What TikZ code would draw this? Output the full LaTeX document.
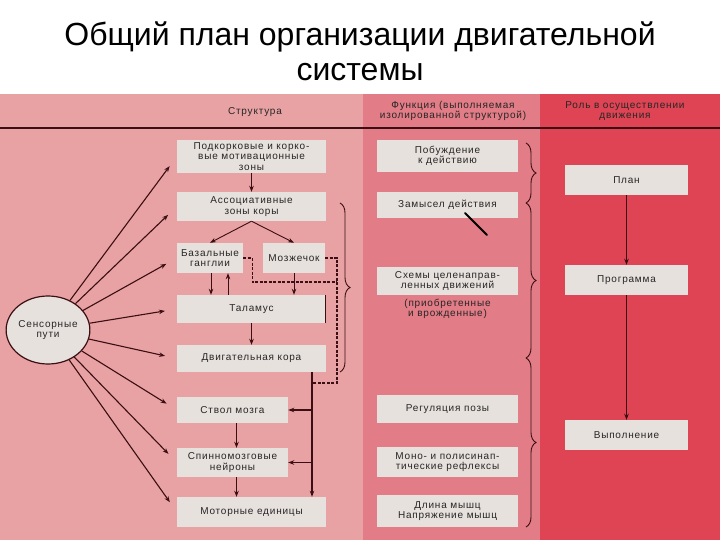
\documentclass[tikz,border=0pt]{standalone}
\usepackage{fontspec}
\setmainfont{Liberation Sans}
\usetikzlibrary{arrows.meta,calc,decorations.pathreplacing,shapes.geometric}
\definecolor{bgleft}{HTML}{E8A2A4}
\definecolor{bgmid}{HTML}{E27C86}
\definecolor{bgright}{HTML}{DE4453}
\definecolor{boxfill}{HTML}{E7E1DD}
\definecolor{ink}{HTML}{3A0E12}
\definecolor{txt}{HTML}{262626}
\newcommand{\boxfont}{\fontsize{10}{10.6}\selectfont\addfontfeatures{LetterSpace=8}}
\tikzset{
  blk/.style={fill=boxfill, inner sep=1pt, align=center, font=\boxfont, text=txt},
  hdr/.style={align=center, font=\boxfont, text=txt},
  ttl/.style={align=center, font=\fontsize{32}{36}\selectfont, text=black},
  arr/.style={draw=ink, line width=0.9pt, -{Stealth[length=6pt,width=4.5pt]}},
  sarr/.style={arr, line width=1.1pt, shorten >=12pt},
  fb/.style={draw=ink, line width=1.4pt, dash pattern=on 3pt off 1.5pt},
  brc/.style={draw=ink, line width=0.9pt, decorate, decoration={brace, amplitude=10pt}},
}

\begin{document}
\begin{tikzpicture}[x=1pt, y=-1pt]
  \useasboundingbox (0,0) rectangle (720,540);
  \fill[white] (0,0) rectangle (720,94);
  \fill[bgleft] (0,94) rectangle (363,540);
  \fill[bgmid] (363,94) rectangle (540,540);
  \fill[bgright] (540,94) rectangle (720,540);
  \draw[ink, line width=1.2pt] (0,128) -- (720,128);

  % title
  \node[ttl] (title1) at (360,37) {Общий план организации двигательной};
  \node[ttl] (title2) at (360,72) {системы};

  % column heads
  \node[hdr] (hstruct) at (255,112) {Структура};
  \node[hdr] (hfunc) at (453,111) {Функция (выполняемая\\изолированной структурой)};
  \node[hdr] (hrole) at (625,111) {Роль в осуществлении\\движения};

  % structures
  \node[blk, minimum width=149pt, minimum height=33pt] (mot) at (251.5,156.5) {Подкорковые и корко-\\вые мотивационные\\зоны};
  \node[blk, minimum width=149pt, minimum height=29pt] (assoc) at (251.5,206.5) {Ассоциативные\\зоны коры};
  \node[blk, minimum width=66pt, minimum height=30pt] (basal) at (210,258) {Базальные\\ганглии};
  \node[blk, minimum width=62pt, minimum height=30pt] (cereb) at (294,258) {Мозжечок};
  \node[blk, minimum width=149pt, minimum height=28pt] (thal) at (251.5,309) {Таламус};
  \node[blk, minimum width=149pt, minimum height=27pt] (motcx) at (251.5,358.5) {Двигательная кора};
  \node[blk, minimum width=111pt, minimum height=26pt] (stem) at (232.5,410) {Ствол мозга};
  \node[blk, minimum width=111pt, minimum height=29pt] (spinal) at (232.5,462.5) {Спинномозговые\\нейроны};
  \node[blk, minimum width=149pt, minimum height=30pt] (units) at (251.5,512) {Моторные единицы};

  \node[ellipse, draw=ink, line width=1.2pt, fill=boxfill, minimum width=80pt, minimum height=68pt,
        inner sep=0pt, align=center, font=\boxfont, text=txt] (sens) at (48,330) {Сенсорные\\пути};

  % functions
  \node[blk, minimum width=141pt, minimum height=32pt] (urge) at (447.5,156) {Побуждение\\к действию};
  \node[blk, minimum width=141pt, minimum height=26pt] (idea) at (447.5,205) {Замысел действия};
  \node[blk, minimum width=141pt, minimum height=28pt] (schema) at (447.5,281) {Схемы целенаправ-\\ленных движений};
  \node[hdr] (origin) at (447.5,309) {(приобретенные\\и врожденные)};
  \node[blk, minimum width=141pt, minimum height=28pt] (posture) at (447.5,409) {Регуляция позы};
  \node[blk, minimum width=141pt, minimum height=30pt] (reflex) at (447.5,462) {Моно- и полисинап-\\тические рефлексы};
  \node[blk, minimum width=141pt, minimum height=32pt] (length) at (447.5,511) {Длина мышц\\Напряжение мышц};

  % role in movement
  \node[blk, minimum width=123pt, minimum height=30pt] (plan) at (626.5,180) {План};
  \node[blk, minimum width=123pt, minimum height=30pt] (prog) at (626.5,280) {Программа};
  \node[blk, minimum width=123pt, minimum height=30pt] (exec) at (626.5,435) {Выполнение};

  % sensory inputs
  \foreach \t in {mot,assoc,basal,thal,motcx,stem,spinal,units}
    \draw[sarr] (sens) -- (\t.west);

  % descending chain
  \draw[arr] (mot.south) -- (assoc.north);
  \draw[arr] (assoc.south) -- (basal.north);
  \draw[arr] (assoc.south) -- (cereb.north);
  \draw[arr] ([xshift=1pt]basal.south) -- ([xshift=1pt]basal.south |- thal.north);
  \draw[arr] ([xshift=18pt]basal.south |- thal.north) -- ([xshift=18pt]basal.south);
  \draw[arr] (cereb.south) -- (cereb.south |- thal.north);
  \draw[draw=ink, line width=0.9pt] ([xshift=-1pt]thal.north east) -- ([xshift=-1pt]thal.south east);
  \draw[arr] (thal.south) -- (motcx.north);
  \draw[arr] ([xshift=4pt]stem.south) -- ([xshift=4pt]stem.south |- spinal.north);
  \draw[arr] ([xshift=4pt]spinal.south) -- ([xshift=4pt]spinal.south |- units.north);

  \coordinate (trunk) at (312,372);
  \draw[arr, line width=1.3pt] (motcx.south -| trunk) -- (units.north -| trunk);
  \draw[arr, line width=1.3pt] (stem.east -| trunk) -- (stem.east);
  \draw[arr, line width=1.3pt] (spinal.east -| trunk) -- (spinal.east);

  % feedback loops
  \coordinate (dk1) at (337,282);
  \coordinate (dk2) at (337,383);
  \draw[fb] (basal.east) -- ++(9,0) |- (dk1);
  \draw[fb] (cereb.east) -| (dk2) -- (dk2 -| trunk);

  % braces
  \draw[brc] (340,203) -- (340,372);
  \draw[brc] (526,143) -- (526,203);
  \draw[brc] (526,203) -- (526,358);
  \draw[brc] (526,358) -- (526,527);

  % pointer under "Замысел действия"
  \draw[draw=black, line width=2pt, line cap=round] (465,213) -- (487,235);

  % plan -> program -> execution
  \draw[arr, line width=1.3pt] (plan.south) -- (prog.north);
  \draw[arr, line width=1.3pt] (prog.south) -- (exec.north);
\end{tikzpicture}
\end{document}
